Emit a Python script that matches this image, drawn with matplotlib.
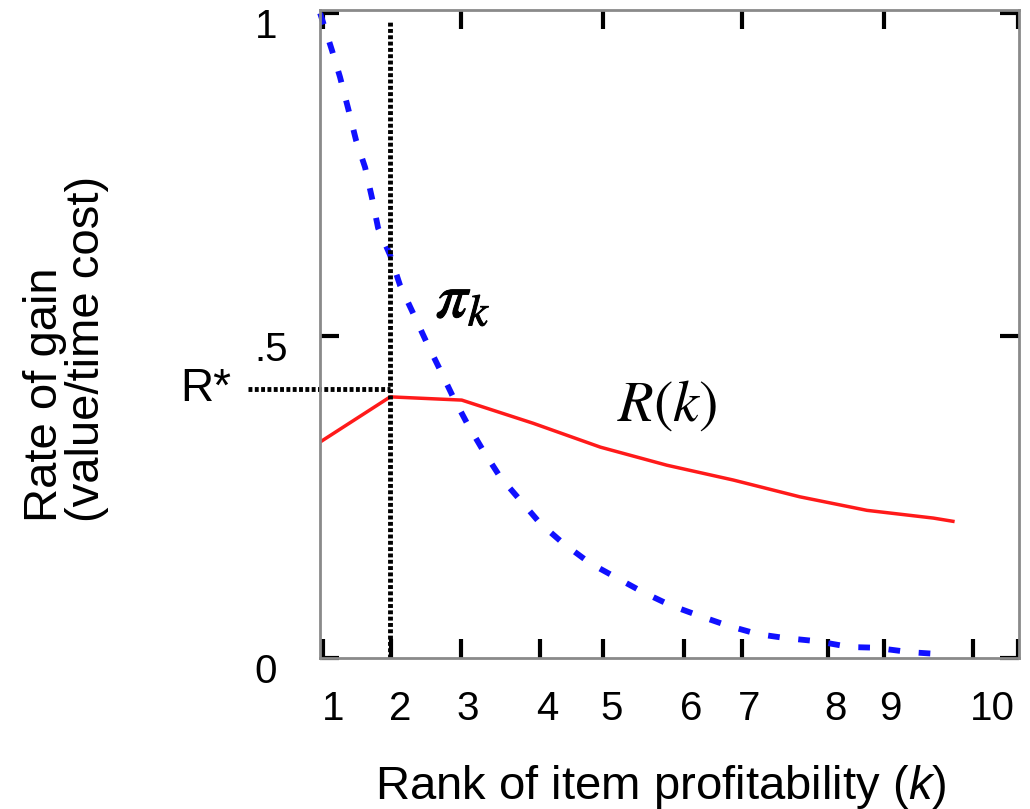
import matplotlib
matplotlib.use('Agg')
import matplotlib.pyplot as plt
import matplotlib.patheffects as pe
from matplotlib.transforms import ScaledTranslation

plt.rcParams['font.family'] = ['Liberation Sans', 'DejaVu Sans']
plt.rcParams['mathtext.fontset'] = 'custom'
plt.rcParams['mathtext.rm'] = 'Liberation Sans'
plt.rcParams['mathtext.it'] = 'Liberation Sans:italic'

# x axis: ranks sit at uneven places along the axis (as in the original drawing)
rank_labels = ['1', '2', '3', '4', '5', '6', '7', '8', '9', '10']
rank_tick_pos = [1.0, 1.94, 2.91, 4.0, 4.88, 6.0, 6.80, 7.99, 8.77, 10.0]
rank_label_pos = [1.14, 2.07, 3.00, 4.10, 5.00, 6.10, 6.90, 8.09, 8.86, 10.27]
top_tick_pos = [1.0, 2.91, 4.88, 6.80, 8.77]
edge_pos = 10.62

y_ticks = [0, 0.5, 1]
y_labels = ['0', '.5', '1']

# profitability of item k (blue dashed)
pi_x = [0.96, 1.125, 1.235, 1.346, 1.457, 1.582, 1.679, 1.762, 1.928, 2.066,
        2.246, 2.440, 2.620, 2.800, 2.994, 3.215, 3.451, 3.728, 4.005, 4.323,
        4.697, 5.071, 5.431, 5.805, 6.220, 6.608, 7.023, 7.397, 7.840, 8.297,
        8.643, 9.128, 9.543]
pi_y = [1.0, 0.942, 0.901, 0.853, 0.803, 0.761, 0.713, 0.667, 0.625, 0.578,
        0.535, 0.488, 0.447, 0.405, 0.364, 0.322, 0.281, 0.245, 0.209, 0.178,
        0.147, 0.124, 0.102, 0.082, 0.065, 0.050, 0.037, 0.031, 0.026, 0.017,
        0.016, 0.009, 0.006]

# overall rate of gain R(k) (red)
r_x = [0.96, 1.93, 2.92, 3.91, 4.84, 5.76, 6.68, 7.60, 8.53, 9.45, 9.72]
r_y = [0.335, 0.405, 0.400, 0.364, 0.327, 0.299, 0.276, 0.250, 0.229, 0.217, 0.212]

k_star = 1.93
r_star = 0.417
r_star_line_start = -0.04

fig = plt.figure(figsize=(10.3, 8.09), dpi=100)
ax = fig.add_axes([320 / 1030, 1 - 658 / 809, 699 / 1030, 648 / 809])
ax.set_xlim(0.958, 10.635)
ax.set_ylim(0, 1.005)

for sp in ax.spines.values():
    sp.set_color('#8a8a8a')
    sp.set_linewidth(2)

# curves
ax.plot(pi_x, pi_y, color='#1010ff', lw=4.2, linestyle=(0, (2.0, 3.2)), clip_on=False)
ax.plot(r_x, r_y, color='#ff1a1a', lw=2.5)

# optimum markers
dot = (0, (0.8, 0.5))
ax.plot([k_star, k_star], [0, 0.99], color='black', lw=3.5, linestyle=dot)
ax.plot([r_star_line_start, k_star], [r_star, r_star], color='black', lw=3.5,
        linestyle=dot, clip_on=False)
ax.text(-0.62, r_star, 'R*', ha='center', va='center', fontsize=33)

ax.text(2.56, 0.555, r'$\pi_k$', ha='left', va='center', fontsize=46,
        math_fontfamily='stix',
        path_effects=[pe.withStroke(linewidth=0.7, foreground='black')])
ax.text(5.76, 0.391, r'$R(k)$', ha='center', va='center', fontsize=42,
        math_fontfamily='stix')

# bottom ticks (marks) and labels (shifted a little, as drawn)
ax.set_xticks(rank_tick_pos + [edge_pos], labels=[''] * (len(rank_tick_pos) + 1))
ax.set_xticks(rank_label_pos, labels=rank_labels, minor=True)
ax.tick_params(axis='x', which='major', direction='in', length=14, width=3,
               color='black', bottom=True, top=False)
ax.tick_params(axis='x', which='minor', length=0, pad=23, labelsize=29)

sec = ax.secondary_xaxis('top')
sec.set_xticks(top_tick_pos + [edge_pos], labels=[''] * (len(top_tick_pos) + 1))
sec.tick_params(direction='in', length=14, width=3, color='black')
sec.spines['top'].set_visible(False)

ax.set_yticks(y_ticks, labels=y_labels)
ax.tick_params(axis='y', direction='in', length=14, width=3, color='black',
               left=True, right=True, labelsize=29, pad=47)
shift = ScaledTranslation(0, -0.1, fig.dpi_scale_trans)
for lab in ax.get_yticklabels():
    lab.set_ha('left')
    lab.set_transform(lab.get_transform() + shift)

fig.text(661 / 1030, 1 - 787 / 809, r'Rank of item profitability ($k$)',
         ha='center', va='center', fontsize=34)
fig.text(66 / 1030, 1 - 349 / 809, 'Rate of gain\n(value/time cost)',
         rotation=90, ha='center', va='center', multialignment='left',
         linespacing=0.95, fontsize=34)

fig.savefig('out.png', dpi=100)
